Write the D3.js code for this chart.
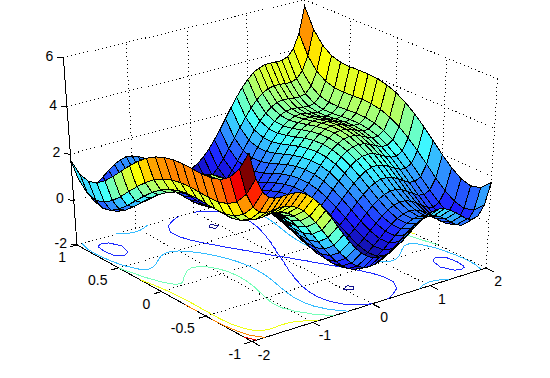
<!DOCTYPE html>
<html>
<head>
<meta charset="utf-8">
<script src="https://cdnjs.cloudflare.com/ajax/libs/d3/7.8.5/d3.min.js"></script>
<style>
html, body { margin: 0; padding: 0; background: #fff; }
svg { display: block; }
text { font-family: "Liberation Sans", Arial, sans-serif; font-size: 14px; fill: #000; }
</style>
</head>
<body>
<div id="chart"></div>
<script>
const xGrid = [-2,-1.9,-1.8,-1.7,-1.6,-1.5,-1.4,-1.3,-1.2,-1.1,-1,-0.9,-0.8,-0.7,-0.6,-0.5,-0.4,-0.3,-0.2,-0.1,0,0.1,0.2,0.3,0.4,0.5,0.6,0.7,0.8,0.9,1,1.1,1.2,1.3,1.4,1.5,1.6,1.7,1.8,1.9,2];
const yGrid = [-1,-0.9,-0.8,-0.7,-0.6,-0.5,-0.4,-0.3,-0.2,-0.1,0,0.1,0.2,0.3,0.4,0.5,0.6,0.7,0.8,0.9,1];

// one row per y value, one column per x value
const zRows = [
[5.73,4.65,4.05,3.77,3.67,3.67,3.68,3.67,3.60,3.46,3.23,2.94,2.59,2.20,1.78,1.37,0.99,0.64,0.36,0.14,0,-0.06,-0.04,0.04,0.19,0.37,0.58,0.80,0.99,1.14,1.23,1.26,1.20,1.07,0.88,0.67,0.47,0.37,0.45,0.85,1.73],
[4.92,3.85,3.26,2.98,2.89,2.90,2.93,2.93,2.87,2.73,2.52,2.23,1.89,1.51,1.11,0.71,0.33,0,-0.28,-0.49,-0.62,-0.67,-0.64,-0.54,-0.39,-0.19,0.03,0.25,0.45,0.61,0.72,0.75,0.71,0.59,0.41,0.20,0.01,-0.08,0.02,0.43,1.32],
[4.41,3.35,2.77,2.50,2.43,2.44,2.48,2.49,2.44,2.31,2.11,1.84,1.51,1.13,0.74,0.35,-0.01,-0.34,-0.60,-0.80,-0.92,-0.96,-0.92,-0.82,-0.65,-0.45,-0.22,0.01,0.23,0.40,0.51,0.55,0.52,0.41,0.24,0.04,-0.13,-0.22,-0.11,0.31,1.21],
[4.13,3.09,2.51,2.26,2.19,2.22,2.26,2.28,2.24,2.13,1.93,1.67,1.35,0.99,0.60,0.22,-0.13,-0.45,-0.70,-0.89,-1.00,-1.03,-0.98,-0.87,-0.69,-0.48,-0.24,0.01,0.23,0.41,0.53,0.59,0.56,0.46,0.30,0.12,-0.05,-0.12,-0.01,0.43,1.33],
[4.01,2.97,2.41,2.16,2.11,2.14,2.20,2.23,2.20,2.09,1.91,1.66,1.35,0.99,0.62,0.25,-0.09,-0.40,-0.64,-0.82,-0.92,-0.94,-0.88,-0.76,-0.57,-0.35,-0.10,0.15,0.39,0.58,0.71,0.77,0.76,0.67,0.52,0.34,0.19,0.12,0.25,0.69,1.61],
[3.98,2.95,2.40,2.17,2.12,2.17,2.23,2.27,2.25,2.16,1.98,1.74,1.44,1.10,0.73,0.37,0.04,-0.26,-0.49,-0.66,-0.75,-0.76,-0.69,-0.56,-0.36,-0.13,0.13,0.40,0.64,0.84,0.98,1.06,1.05,0.97,0.83,0.67,0.52,0.47,0.60,1.05,1.98],
[4.00,2.98,2.43,2.21,2.17,2.23,2.30,2.35,2.34,2.26,2.10,1.86,1.57,1.24,0.89,0.54,0.21,-0.07,-0.30,-0.46,-0.54,-0.54,-0.46,-0.31,-0.11,0.14,0.41,0.68,0.93,1.14,1.30,1.38,1.38,1.31,1.18,1.03,0.89,0.85,0.99,1.46,2.40],
[4.01,3.00,2.46,2.25,2.22,2.29,2.37,2.43,2.43,2.36,2.21,1.98,1.70,1.38,1.04,0.70,0.38,0.11,-0.11,-0.26,-0.33,-0.32,-0.23,-0.07,0.14,0.40,0.68,0.96,1.22,1.44,1.61,1.70,1.71,1.65,1.53,1.39,1.26,1.23,1.38,1.86,2.81],
[3.98,2.98,2.46,2.25,2.24,2.31,2.41,2.48,2.49,2.42,2.28,2.07,1.79,1.48,1.15,0.82,0.51,0.25,0.04,-0.09,-0.15,-0.13,-0.04,0.13,0.35,0.62,0.91,1.20,1.47,1.71,1.88,1.98,2.01,1.96,1.85,1.71,1.60,1.57,1.74,2.22,3.18],
[3.89,2.91,2.39,2.20,2.19,2.28,2.38,2.46,2.48,2.43,2.29,2.09,1.83,1.53,1.20,0.88,0.59,0.33,0.14,0.01,-0.04,-0.01,0.10,0.27,0.51,0.78,1.08,1.39,1.67,1.91,2.09,2.21,2.24,2.20,2.10,1.98,1.87,1.86,2.03,2.53,3.49],
[3.73,2.75,2.25,2.07,2.07,2.17,2.28,2.37,2.40,2.36,2.23,2.04,1.79,1.50,1.18,0.87,0.59,0.34,0.16,0.04,0,0.04,0.16,0.34,0.59,0.87,1.18,1.50,1.79,2.04,2.23,2.36,2.40,2.37,2.28,2.17,2.07,2.07,2.25,2.75,3.73],
[3.49,2.53,2.03,1.86,1.87,1.98,2.10,2.20,2.24,2.21,2.09,1.91,1.67,1.39,1.08,0.78,0.51,0.27,0.10,-0.01,-0.04,0.01,0.14,0.33,0.59,0.88,1.20,1.53,1.83,2.09,2.29,2.43,2.48,2.46,2.38,2.28,2.19,2.20,2.39,2.91,3.89],
[3.18,2.22,1.74,1.57,1.60,1.71,1.85,1.96,2.01,1.98,1.88,1.71,1.47,1.20,0.91,0.62,0.35,0.13,-0.04,-0.13,-0.15,-0.09,0.04,0.25,0.51,0.82,1.15,1.48,1.79,2.07,2.28,2.42,2.49,2.48,2.41,2.31,2.24,2.25,2.46,2.98,3.98],
[2.81,1.86,1.38,1.23,1.26,1.39,1.53,1.65,1.71,1.70,1.61,1.44,1.22,0.96,0.68,0.40,0.14,-0.07,-0.23,-0.32,-0.33,-0.26,-0.11,0.11,0.38,0.70,1.04,1.38,1.70,1.98,2.21,2.36,2.43,2.43,2.37,2.29,2.22,2.25,2.46,3.00,4.01],
[2.40,1.46,0.99,0.85,0.89,1.03,1.18,1.31,1.38,1.38,1.30,1.14,0.93,0.68,0.41,0.14,-0.11,-0.31,-0.46,-0.54,-0.54,-0.46,-0.30,-0.07,0.21,0.54,0.89,1.24,1.57,1.86,2.10,2.26,2.34,2.35,2.30,2.23,2.17,2.21,2.43,2.98,4.00],
[1.98,1.05,0.60,0.47,0.52,0.67,0.83,0.97,1.05,1.06,0.98,0.84,0.64,0.40,0.13,-0.13,-0.36,-0.56,-0.69,-0.76,-0.75,-0.66,-0.49,-0.26,0.04,0.37,0.73,1.10,1.44,1.74,1.98,2.16,2.25,2.27,2.23,2.17,2.12,2.17,2.40,2.95,3.98],
[1.61,0.69,0.25,0.12,0.19,0.34,0.52,0.67,0.76,0.77,0.71,0.58,0.39,0.15,-0.10,-0.35,-0.57,-0.76,-0.88,-0.94,-0.92,-0.82,-0.64,-0.40,-0.09,0.25,0.62,0.99,1.35,1.66,1.91,2.09,2.20,2.23,2.20,2.14,2.11,2.16,2.41,2.97,4.01],
[1.33,0.43,-0.01,-0.12,-0.05,0.12,0.30,0.46,0.56,0.59,0.53,0.41,0.23,0.01,-0.24,-0.48,-0.69,-0.87,-0.98,-1.03,-1.00,-0.89,-0.70,-0.45,-0.13,0.22,0.60,0.99,1.35,1.67,1.93,2.13,2.24,2.28,2.26,2.22,2.19,2.26,2.51,3.09,4.13],
[1.21,0.31,-0.11,-0.22,-0.13,0.04,0.24,0.41,0.52,0.55,0.51,0.40,0.23,0.01,-0.22,-0.45,-0.65,-0.82,-0.92,-0.96,-0.92,-0.80,-0.60,-0.34,-0.01,0.35,0.74,1.13,1.51,1.84,2.11,2.31,2.44,2.49,2.48,2.44,2.43,2.50,2.77,3.35,4.41],
[1.32,0.43,0.02,-0.08,0.01,0.20,0.41,0.59,0.71,0.75,0.72,0.61,0.45,0.25,0.03,-0.19,-0.39,-0.54,-0.64,-0.67,-0.62,-0.49,-0.28,0,0.33,0.71,1.11,1.51,1.89,2.23,2.52,2.73,2.87,2.93,2.93,2.90,2.89,2.98,3.26,3.85,4.92],
[1.73,0.85,0.45,0.37,0.47,0.67,0.88,1.07,1.20,1.26,1.23,1.14,0.99,0.80,0.58,0.37,0.19,0.04,-0.04,-0.06,0,0.14,0.36,0.64,0.99,1.37,1.78,2.20,2.59,2.94,3.23,3.46,3.60,3.67,3.68,3.67,3.67,3.77,4.05,4.65,5.73]
];

const xTicks = [-2, -1, 0, 1, 2];
const yTicks = [-1, -0.5, 0, 0.5, 1];
const zTicks = [-2, 0, 2, 4, 6];
const contourLevels = [-1, 0, 1, 2, 3, 4, 5];

const width = 550, height = 378;

const svg = d3.select('#chart').append('svg')
    .attr('width', width)
    .attr('height', height)
    .attr('shape-rendering', 'crispEdges');

const uScale = d3.scaleLinear().domain([-2, 2]).range([0, 1]);
const vScale = d3.scaleLinear().domain([-1, 1]).range([0, 1]);
const wScale = d3.scaleLinear().domain([-2, 6]).range([0, 1]);

// perspective camera fitted on the corners of the box
function project(x, y, z){
    let u = uScale(x), v = vScale(y), w = wScale(z);
    let d = 1 + 0.05542 * u + 0.07311 * v - 0.0615 * w;
    return [
        (252 + 261 * u - 169.37 * v - 18.5 * w) / d,
        (341.5 - 58.65 * u - 78.59 * v - 204.5 * w) / d
    ];
}

// jet colormap with the slightly lighter blues of the picture, 64 steps
const jet = d3.scaleLinear()
    .domain([0, 0.125, 0.375, 0.625, 0.875, 1])
    .range(['#10108c', '#1a1aff', '#40ffff', '#ffff00', '#ff0000', '#800000']);
const zFlat = zRows.flat();
const colorPos = d3.scaleLinear().domain(d3.extent(zFlat)).range([0, 1]);
const color = z => jet(Math.floor(colorPos(z) * 63.999) / 63);

const line = d3.line();

function seg(g, a, b, dotted){
    g.append('path')
        .attr('d', line([project(...a), project(...b)]))
        .attr('fill', 'none')
        .attr('stroke', '#000')
        .attr('stroke-dasharray', dotted ? '1 3' : null);
}

// grid on floor and the two back walls
const grid = svg.append('g');
xTicks.forEach(x => {
    seg(grid, [x, -1, -2], [x, 1, -2], true);
    seg(grid, [x, 1, -2], [x, 1, 6], true);
});
yTicks.forEach(y => {
    seg(grid, [-2, y, -2], [2, y, -2], true);
    seg(grid, [2, y, -2], [2, y, 6], true);
});
zTicks.forEach(z => {
    seg(grid, [-2, 1, z], [2, 1, z], true);
    seg(grid, [2, 1, z], [2, -1, z], true);
});

// axis lines and ticks
const axes = svg.append('g');
seg(axes, [-2, -1, -2], [2, -1, -2]);
seg(axes, [-2, -1, -2], [-2, 1, -2]);
seg(axes, [-2, 1, -2], [-2, 1, 6]);
xTicks.forEach(x => seg(axes, [x, -1, -2], [x, -1.08, -2]));
yTicks.forEach(y => seg(axes, [-2, y, -2], [-2.12, y, -2]));
zTicks.forEach(z => seg(axes, [-2, 1, z], [-2.06, 1.03, z]));

const labels = svg.append('g');
labels.selectAll('.xl').data(xTicks).join('text')
    .attr('class', 'xl')
    .attr('text-anchor', 'middle')
    .attr('x', d => project(d, -1, -2)[0] + 12)
    .attr('y', d => project(d, -1, -2)[1] + 18)
    .text(d => d);
labels.selectAll('.yl').data(yTicks).join('text')
    .attr('class', 'yl')
    .attr('text-anchor', 'end')
    .attr('x', d => project(-2, d, -2)[0] - 11)
    .attr('y', d => project(-2, d, -2)[1] + 17)
    .text(d => d);
labels.selectAll('.zl').data(zTicks).join('text')
    .attr('class', 'zl')
    .attr('text-anchor', 'end')
    .attr('x', d => project(-2, 1, d)[0] - 10)
    .attr('y', d => project(-2, 1, d)[1] + 3)
    .text(d => d);

// contours on the floor, d3.contours closes rings along the border so those parts are dropped
const nx = xGrid.length, ny = yGrid.length;
const cellX = d3.scaleLinear().domain([0.5, nx - 0.5]).range([-2, 2]);
const cellY = d3.scaleLinear().domain([0.5, ny - 0.5]).range([-1, 1]);
const contours = d3.contours().size([nx, ny]).thresholds(contourLevels)(zFlat);
const inside = p => p[0] >= 0.5 && p[0] <= nx - 0.5 && p[1] >= 0.5 && p[1] <= ny - 0.5;
const contourLine = d3.line()
    .defined(inside)
    .x(p => project(cellX(p[0]), cellY(p[1]), -2)[0])
    .y(p => project(cellX(p[0]), cellY(p[1]), -2)[1]);

const contourG = svg.append('g').attr('fill', 'none');
contours.forEach(c => {
    c.coordinates.forEach(polygon => {
        polygon.forEach(ring => {
            contourG.append('path')
                .attr('d', contourLine(ring))
                .attr('stroke', color(c.value));
        });
    });
});

// surface, painted from the back corner to the front corner
const cells = [];
for(let j = ny - 2; j >= 0; j--){
    for(let i = nx - 2; i >= 0; i--){
        cells.push({i: i, j: j, z: zRows[j][i]});
    }
}
const corner = (i, j) => project(xGrid[i], yGrid[j], zRows[j][i]);

svg.append('g').selectAll('path')
    .data(cells)
    .join('path')
    .attr('d', d => line([
        corner(d.i, d.j),
        corner(d.i + 1, d.j),
        corner(d.i + 1, d.j + 1),
        corner(d.i, d.j + 1)
    ]) + 'Z')
    .attr('fill', d => color(d.z))
    .attr('stroke', '#000')
    .attr('stroke-width', 1);
</script>
</body>
</html>
